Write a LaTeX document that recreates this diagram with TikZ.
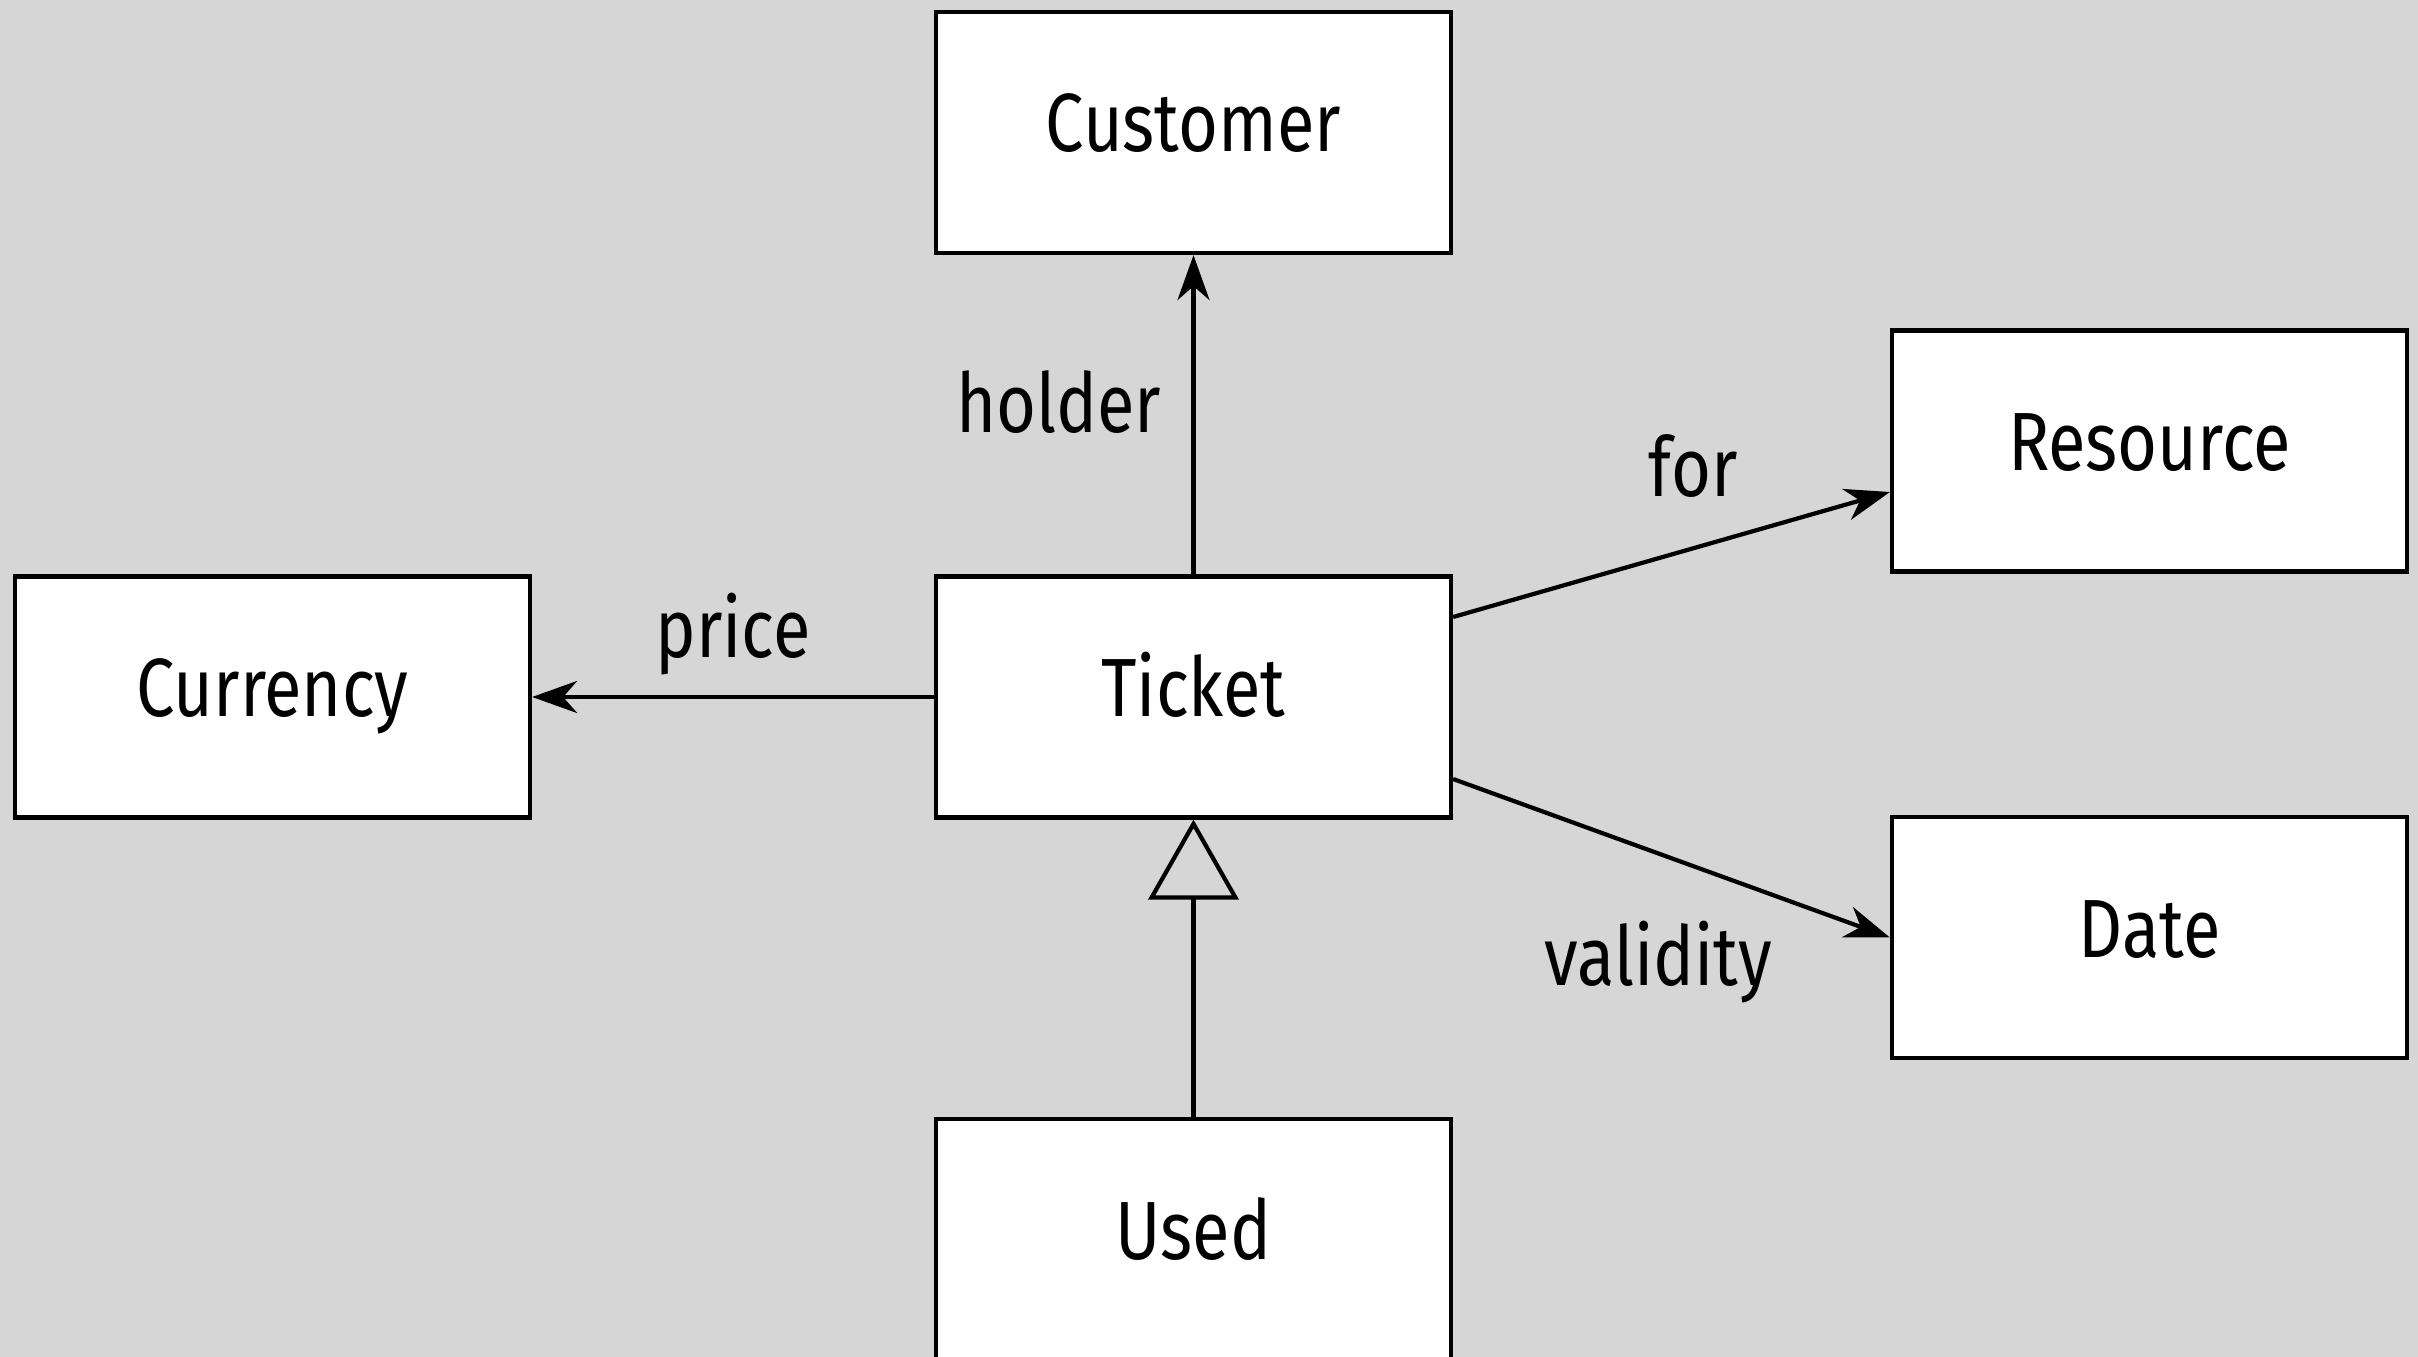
\documentclass[tikz,border=0pt]{standalone}
\usepackage{fontspec}
\setmainfont{Fira Sans}[FakeStretch=0.83]
\usepackage{tikz}
\usetikzlibrary{arrows.meta}

\definecolor{bggray}{RGB}{214,214,214}

\begin{document}
\begin{tikzpicture}[->,>={Stealth[length=0.45cm,width=0.32cm,inset=0.14cm]},
                    line width=1.2pt,font=\fontsize{23.5}{28}\selectfont]
  \tikzstyle{cls}=[draw,fill=white,minimum width=5.15cm,minimum height=2.41cm,inner sep=0pt,
                   text height=0.62cm,text depth=0.23cm]

  \fill[-,bggray] (0,0) rectangle (24.18,-13.57);
  \useasboundingbox (0,0) rectangle (24.18,-13.57);

  \node[cls] (T) at (11.935,-6.97)                          {Ticket};
  \node[cls] (C) [node distance=5.645cm,above of=T]         {Customer};
  \node[cls] (Cu) [node distance=9.21cm,left of=T]          {Currency};
  \node[cls] (R) [node distance=9.56cm,right of=T,yshift=2.46cm]  {Resource};
  \node[cls] (D) [node distance=9.56cm,right of=T,yshift=-2.405cm] {Date};
  \node[cls] (U) [node distance=5.425cm,below of=T]         {Used};

  \path (T.north) edge node[pos=0.54,xshift=-1.345cm] {holder} (C.south)
        (T.west)  edge node[yshift=0.63cm] {price} (Cu.east)
        ([yshift=0.8cm]T.east) edge node[pos=0.55,yshift=0.82cm] {for} ([yshift=-0.41cm]R.west)
        ([yshift=-0.82cm]T.east) edge node[pos=0.47,yshift=-1.09cm] {validity} (D.west)
        (U.north) edge[-{Triangle[open,length=0.8cm,width=0.9cm]}] (T.south);
\end{tikzpicture}
\end{document}
